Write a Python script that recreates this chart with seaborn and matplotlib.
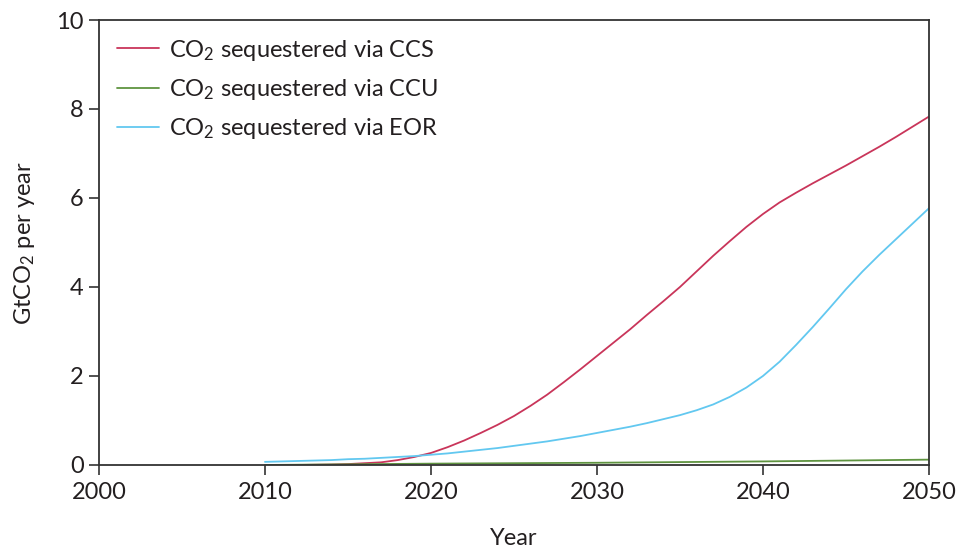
import matplotlib
matplotlib.use("Agg")
import matplotlib.pyplot as plt
import seaborn as sns
import pandas as pd

# Sequestration pathways, GtCO2 per year
years = list(range(2010, 2051))
ccs = [0.0, 0.0, 0.0, 0.005, 0.01, 0.02, 0.04, 0.06, 0.11, 0.18,
       0.27, 0.4, 0.55, 0.72, 0.9, 1.1, 1.33, 1.58, 1.86, 2.15,
       2.45, 2.75, 3.05, 3.37, 3.68, 4.0, 4.35, 4.7, 5.03, 5.35,
       5.64, 5.9, 6.12, 6.33, 6.53, 6.73, 6.94, 7.15, 7.37, 7.6,
       7.83]
eor = [0.07, 0.08, 0.09, 0.1, 0.11, 0.13, 0.14, 0.16, 0.18, 0.2,
       0.23, 0.26, 0.3, 0.34, 0.38, 0.43, 0.48, 0.53, 0.59, 0.65,
       0.72, 0.79, 0.86, 0.94, 1.03, 1.12, 1.23, 1.36, 1.53, 1.74,
       2.0, 2.32, 2.7, 3.1, 3.52, 3.95, 4.35, 4.72, 5.07, 5.42,
       5.77]
ccu_years = [2010, 2015, 2020, 2025, 2030, 2035, 2040, 2045, 2050]
ccu = [0.0, 0.015, 0.03, 0.04, 0.05, 0.065, 0.08, 0.1, 0.12]

series_labels = [r"CO$_2$ sequestered via CCS",
                 r"CO$_2$ sequestered via CCU",
                 r"CO$_2$ sequestered via EOR"]
colors = ["#c9355a", "#5f9440", "#62c8f0"]

x_ticks = [2000, 2010, 2020, 2030, 2040, 2050]
y_ticks = [0, 2, 4, 6, 8, 10]

df = pd.concat([
    pd.DataFrame({"Year": years, "value": ccs, "series": series_labels[0]}),
    pd.DataFrame({"Year": ccu_years, "value": ccu, "series": series_labels[1]}),
    pd.DataFrame({"Year": years, "value": eor, "series": series_labels[2]}),
], ignore_index=True)

sns.set_theme(style="ticks")
plt.rcParams["font.family"] = ["Lato", "DejaVu Sans"]
plt.rcParams["mathtext.fontset"] = "custom"
plt.rcParams["mathtext.rm"] = "Lato"
plt.rcParams["mathtext.it"] = "Lato:italic"
plt.rcParams["mathtext.bf"] = "Lato:bold"

text_color = "#231f20"
fs = 17

fig = plt.figure(figsize=(9.58, 5.48), dpi=100)
ax = fig.add_axes([0.1033, 0.1515, 0.8664, 0.812])

sns.lineplot(data=df, x="Year", y="value", hue="series",
             hue_order=series_labels, palette=colors,
             linewidth=1.3, ax=ax)

ax.set_xlim(2000, 2050)
ax.set_ylim(0, 10)
ax.set_xticks(x_ticks)
ax.set_yticks(y_ticks)
ax.tick_params(axis="both", direction="out", length=7, width=1.2,
               color="#333333", labelsize=fs, labelcolor=text_color)
ax.tick_params(axis="x", pad=5)
ax.tick_params(axis="y", pad=4)
for side in ["left", "bottom", "top", "right"]:
    ax.spines[side].set_visible(True)
    ax.spines[side].set_color("#333333")
    ax.spines[side].set_linewidth(1.3)

ax.set_xlabel("Year", fontsize=fs, color=text_color, labelpad=18)
ax.set_ylabel(r"GtCO$_2$ per year", fontsize=fs, color=text_color, labelpad=14)

leg = ax.legend(loc="upper left", frameon=False, fontsize=fs,
                handlelength=1.8, handletextpad=0.4, labelspacing=0.6,
                borderaxespad=0.45, borderpad=0.3, bbox_to_anchor=(0.0, 1.0))
for txt in leg.get_texts():
    txt.set_color(text_color)

fig.savefig("out.png", dpi=100)
